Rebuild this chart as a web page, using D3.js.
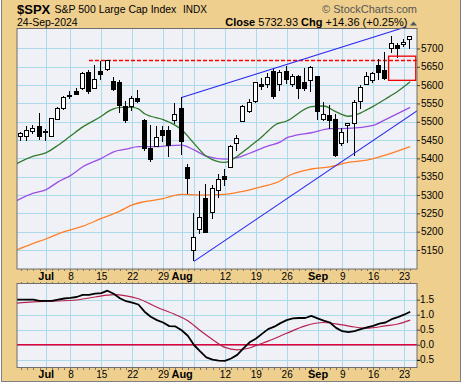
<!DOCTYPE html>
<html><head><meta charset="utf-8">
<script src="https://cdn.jsdelivr.net/npm/d3@7"></script>
<style>
body{margin:0;background:#fff}
svg{display:block}
text{font-family:"Liberation Sans",Arial,sans-serif}
</style>
</head><body>
<svg id="c" width="465" height="385"></svg>
<script>
// ---------------- DATA ----------------
const dates = ["2024-06-24","2024-06-25","2024-06-26","2024-06-27","2024-06-28",
"2024-07-01","2024-07-02","2024-07-03","2024-07-05","2024-07-08","2024-07-09","2024-07-10","2024-07-11","2024-07-12",
"2024-07-15","2024-07-16","2024-07-17","2024-07-18","2024-07-19","2024-07-22","2024-07-23","2024-07-24","2024-07-25","2024-07-26",
"2024-07-29","2024-07-30","2024-07-31","2024-08-01","2024-08-02","2024-08-05","2024-08-06","2024-08-07","2024-08-08","2024-08-09",
"2024-08-12","2024-08-13","2024-08-14","2024-08-15","2024-08-16","2024-08-19","2024-08-20","2024-08-21","2024-08-22","2024-08-23",
"2024-08-26","2024-08-27","2024-08-28","2024-08-29","2024-08-30","2024-09-03","2024-09-04","2024-09-05","2024-09-06",
"2024-09-09","2024-09-10","2024-09-11","2024-09-12","2024-09-13","2024-09-16","2024-09-17","2024-09-18","2024-09-19","2024-09-20",
"2024-09-23","2024-09-24"];
const candleDates = dates.slice(1);

const opens = [5460.7,5460.7,5473.6,5488.5,5471.1,5461.8,5507.4,5537.9,5572.8,5584.2,
5591.3,5635.2,5590.8,5638.2,5644.1,5610.1,5608.6,5543.4,5544.0,5565.3,
5505.8,5428.7,5433.7,5476.6,5478.7,5505.6,5537.8,5376.6,5151.1,5206.4,
5293.1,5252.6,5314.2,5351.9,5377.0,5442.2,5501.1,5530.5,5557.2,5602.9,
5603.1,5637.8,5602.6,5639.7,5602.9,5624.5,5607.3,5612.7,5623.9,5506.7,
5518.0,5507.3,5442.1,5490.5,5496.4,5557.5,5603.3,5615.2,5655.5,5641.7,
5702.6,5709.3,5711.9,5727.0];
const highs = [5472.9,5488.8,5490.8,5523.6,5479.6,5509.7,5539.3,5570.3,5583.1,5590.8,
5635.4,5642.5,5655.6,5666.9,5669.7,5622.5,5614.1,5557.5,5570.4,5585.3,
5508.0,5491.6,5488.3,5487.7,5489.5,5551.5,5566.2,5383.9,5250.9,5312.3,
5330.6,5328.0,5358.4,5371.2,5436.5,5463.2,5546.2,5562.0,5608.3,5620.5,
5632.7,5643.2,5641.8,5651.6,5631.2,5627.0,5647.0,5651.4,5623.9,5552.7,
5546.3,5522.5,5484.2,5497.9,5560.4,5600.7,5636.3,5636.1,5670.8,5689.8,
5733.6,5715.1,5725.4,5735.3];
const lows = [5446.6,5448.5,5467.5,5451.1,5446.5,5458.4,5507.4,5531.6,5562.5,5574.6,
5586.4,5576.5,5590.4,5614.8,5639.0,5584.8,5522.8,5497.0,5528.0,5550.9,
5420.0,5391.0,5430.7,5444.4,5403.0,5493.8,5410.4,5302.0,5119.3,5193.6,
5195.5,5233.9,5290.8,5324.4,5377.0,5421.1,5501.1,5525.2,5550.7,5585.5,
5591.6,5561.0,5585.2,5602.3,5593.5,5561.0,5583.7,5581.8,5503.8,5501.7,
5480.4,5402.6,5434.5,5441.7,5407.0,5535.5,5601.7,5604.5,5614.1,5615.1,
5686.4,5674.5,5704.9,5699.0];
const closes = [5469.30,5477.90,5482.87,5460.48,5475.09,5509.01,5537.02,5567.19,5572.85,5576.98,
5633.91,5584.54,5615.35,5631.22,5667.20,5588.27,5544.59,5505.00,5564.41,5555.74,
5427.13,5399.22,5459.10,5463.54,5436.44,5522.30,5446.68,5346.56,5186.33,5240.03,
5199.50,5319.31,5344.16,5344.39,5434.43,5455.21,5543.22,5554.25,5608.25,5597.12,
5620.85,5570.64,5634.61,5616.84,5625.80,5592.18,5591.96,5648.40,5528.93,5520.07,
5503.41,5408.42,5471.05,5495.52,5554.13,5595.76,5626.02,5633.09,5634.58,5618.26,
5713.64,5702.55,5718.57,5732.93];

// moving averages at sample dates
const maShortDates = ["2024-06-24","2024-06-27","2024-07-01","2024-07-03","2024-07-08","2024-07-10","2024-07-15","2024-07-16","2024-07-17","2024-07-18","2024-07-22","2024-07-23","2024-07-24","2024-07-25","2024-07-29","2024-07-31","2024-08-01","2024-08-05","2024-08-07","2024-08-12","2024-08-14","2024-08-16","2024-08-20","2024-08-21","2024-08-22","2024-08-26","2024-08-30","2024-09-04","2024-09-06","2024-09-10","2024-09-12","2024-09-13","2024-09-16","2024-09-18","2024-09-20","2024-09-24"];
const maShortVals  = [5383,5406,5415,5436,5461,5486,5515,5527,5535,5539,5539,5535,5522,5515,5506,5490,5478,5441,5406,5389,5406,5432,5459,5475,5490,5502,5541,5543,5527,5515,5524,5533,5542,5562,5583,5609];

const maMidDates = ["2024-06-24","2024-06-27","2024-07-01","2024-07-03","2024-07-08","2024-07-10","2024-07-15","2024-07-17","2024-07-19","2024-07-23","2024-07-26","2024-07-30","2024-08-01","2024-08-05","2024-08-07","2024-08-12","2024-08-14","2024-08-16","2024-08-21","2024-08-23","2024-08-26","2024-08-27","2024-08-30","2024-09-05","2024-09-10","2024-09-16","2024-09-18","2024-09-24"];
const maMidVals  = [5282,5305,5314,5336,5353,5377,5400,5418,5425,5432,5432,5435,5436,5423,5406,5398,5402,5414,5434,5445,5456,5461,5470,5481,5482,5490,5506,5539];

const maLongDates = ["2024-06-24","2024-06-27","2024-07-01","2024-07-05","2024-07-10","2024-07-15","2024-07-18","2024-07-22","2024-07-24","2024-07-29","2024-07-30","2024-08-01","2024-08-06","2024-08-12","2024-08-14","2024-08-20","2024-08-23","2024-08-26","2024-08-30","2024-09-05","2024-09-10","2024-09-13","2024-09-18","2024-09-24"];
const maLongVals  = [5148,5168,5180,5200,5215,5236,5256,5273,5282,5290,5295,5302,5300,5302,5307,5323,5339,5350,5371,5377,5389,5395,5409,5432];

// PPO (daily, from Jun 24) and its signal line (sampled)
const ppoVals = [1.50,1.50,1.50,1.50,1.46,1.46,1.46,1.50,1.54,1.56,1.59,1.66,1.66,1.70,1.72,1.80,1.70,1.55,1.45,1.40,1.34,
1.10,0.93,0.82,0.74,0.62,0.61,0.48,0.30,-0.01,-0.22,-0.42,-0.50,-0.53,-0.54,-0.46,-0.34,-0.12,0.08,0.20,0.36,
0.52,0.60,0.72,0.82,0.88,0.89,0.89,0.96,0.88,0.80,0.74,0.56,0.45,0.42,0.45,0.52,0.58,0.63,0.70,0.74,0.85,0.92,1.00,1.10];
const sigDates = ["2024-06-24","2024-06-27","2024-07-02","2024-07-09","2024-07-12","2024-07-17","2024-07-19","2024-07-23","2024-07-26","2024-07-31","2024-08-02","2024-08-06","2024-08-08","2024-08-12","2024-08-14","2024-08-16","2024-08-19","2024-08-21","2024-08-26","2024-08-29","2024-09-04","2024-09-09","2024-09-11","2024-09-13","2024-09-18","2024-09-20","2024-09-24"];
const sigVals  = [1.38,1.43,1.45,1.49,1.59,1.67,1.63,1.53,1.25,1.00,0.80,0.47,0.17,-0.09,-0.17,-0.11,-0.03,0.12,0.38,0.63,0.74,0.66,0.59,0.55,0.63,0.69,0.82];

// annotations
const upperTrend = [["2024-08-01",5566],["2024-09-23",5757]];
const upperTrendExtra = 0.4; // fraction of a day beyond end date
const lowerTrend = [["2024-08-05",5119],["2024-09-24",5517]];
const resistance = {from:"2024-07-11", value:5667};
const gapBox = {from:"2024-09-18", to:"2024-09-24", top:5679, bottom:5613};

// axis ticks
const priceTicks = [5150,5200,5250,5300,5350,5400,5450,5500,5550,5600,5650,5700];
const ppoTicks = [-0.5,0,0.5,1,1.5];
const xTickDates = ["2024-07-01","2024-07-08","2024-07-15","2024-07-22","2024-07-29","2024-08-01","2024-08-12","2024-08-19","2024-08-26","2024-09-03","2024-09-09","2024-09-16","2024-09-23"];
const xTickLabels = ["Jul","8","15","22","29","Aug","12","19","26","Sep","9","16","23"];
const gridDates = ["2024-07-01","2024-07-08","2024-07-15","2024-07-22","2024-07-29","2024-08-01","2024-08-05","2024-08-12","2024-08-19","2024-08-26","2024-09-03","2024-09-09","2024-09-16","2024-09-23"];

// ---------------- DRAW ----------------
const svg = d3.select("#c");
const tan = "#EFCF8E", plotBg = "#F0F1F6", gridC = "#ABDAEA", frame = "#6E6E6E";
const P = {l:17, r:417, t:28.5, b:269};
const L = {t:283.5, b:367.5};
const di = d => dates.indexOf(d);

const x = d3.scaleLinear().domain([0.35, 65.1]).range([P.l, P.r]);
const y = d3.scaleLinear().domain([5098.1, 5754.5]).range([P.b, P.t]);
const yl = d3.scaleLinear().domain([-0.76, 2.04]).range([L.b, L.t]);

svg.append("rect").attr("x",1.5).attr("y",-2).attr("width",459).attr("height",383.5)
  .attr("fill",tan).attr("stroke","#808080");

const defs = svg.append("defs");
defs.append("clipPath").attr("id","cu").append("rect").attr("x",P.l).attr("y",P.t).attr("width",P.r-P.l).attr("height",P.b-P.t);
defs.append("clipPath").attr("id","cl").append("rect").attr("x",P.l).attr("y",L.t).attr("width",P.r-P.l).attr("height",L.b-L.t);

// panels
svg.append("rect").attr("x",P.l).attr("y",P.t).attr("width",P.r-P.l).attr("height",P.b-P.t).attr("fill",plotBg);
svg.append("rect").attr("x",P.l).attr("y",L.t).attr("width",P.r-P.l).attr("height",L.b-L.t).attr("fill",plotBg);

const gu = svg.append("g").attr("clip-path","url(#cu)");
const gl = svg.append("g").attr("clip-path","url(#cl)");

// grid
const px = v => Math.round(v)+0.5;
gu.append("g").selectAll("line").data(gridDates).join("line").attr("x1",d=>px(x(di(d)))).attr("x2",d=>px(x(di(d))))
  .attr("y1",P.t).attr("y2",P.b).attr("stroke",gridC).attr("stroke-width",1);
gu.append("g").selectAll("line").data(priceTicks).join("line").attr("x1",P.l).attr("x2",P.r)
  .attr("y1",d=>px(y(d))).attr("y2",d=>px(y(d))).attr("stroke",gridC).attr("stroke-width",1);
gl.append("g").selectAll("line").data(gridDates).join("line").attr("x1",d=>px(x(di(d)))).attr("x2",d=>px(x(di(d))))
  .attr("y1",L.t).attr("y2",L.b).attr("stroke",gridC).attr("stroke-width",1);
gl.append("g").selectAll("line").data(ppoTicks).join("line").attr("x1",P.l).attr("x2",P.r)
  .attr("y1",d=>px(yl(d))).attr("y2",d=>px(yl(d))).attr("stroke",gridC).attr("stroke-width",1);

// moving averages
function maLine(ds, vs, color){
  const pts = ds.map((d,i)=>[x(di(d)), y(vs[i])]);
  gu.append("path").attr("d", d3.line().curve(d3.curveMonotoneX)(pts))
    .attr("fill","none").attr("stroke",color).attr("stroke-width",1.3);
}
maLine(maLongDates, maLongVals, "#FF7F27");
maLine(maMidDates, maMidVals, "#9B4FE8");
maLine(maShortDates, maShortVals, "#2E7A2E");

// resistance dashed line
gu.append("line").attr("x1",x(di(resistance.from))).attr("x2",P.r)
  .attr("y1",y(resistance.value)).attr("y2",y(resistance.value))
  .attr("stroke","#FF0000").attr("stroke-width",1.5).attr("stroke-dasharray","4,2");

// candles
const cg = gu.append("g").attr("shape-rendering","crispEdges");
candleDates.forEach((d,i)=>{
  const r = Math.round(x(di(d)));
  const o = opens[i], c = closes[i];
  cg.append("line").attr("x1",r-0.5).attr("x2",r-0.5).attr("y1",y(highs[i])).attr("y2",y(lows[i]))
    .attr("stroke","#000").attr("stroke-width",1);
  const top = Math.round(y(Math.max(o,c))), bot = Math.round(y(Math.min(o,c)));
  cg.append("rect").attr("x",r-2.5).attr("width",4).attr("y",top+0.5).attr("height",Math.max(bot-top,1))
    .attr("fill", c>o ? "#fff" : "#000").attr("stroke","#000").attr("stroke-width",1);
});

// gap box
gu.append("rect").attr("x",x(di(gapBox.from)+0.5)).attr("y",y(gapBox.top))
  .attr("width",x(di(gapBox.to)+0.9)-x(di(gapBox.from)+0.5)).attr("height",y(gapBox.bottom)-y(gapBox.top))
  .attr("fill","none").attr("stroke","#EE0000").attr("stroke-width",1.3);

// trend lines (upper one is drawn unclipped, it runs over the header)
{
  const [a,b] = upperTrend;
  const i0 = di(a[0]), i1 = di(b[0]);
  const slope = (b[1]-a[1])/(i1-i0);
  const i2 = i1 + upperTrendExtra;
  svg.append("line").attr("x1",x(i0)).attr("y1",y(a[1])).attr("x2",x(i2)).attr("y2",y(a[1]+slope*(i2-i0)))
    .attr("stroke","#2626F2").attr("stroke-width",1.1);
}
{
  const [a,b] = lowerTrend;
  const i0 = di(a[0]), i1 = di(b[0]);
  const slope = (b[1]-a[1])/(i1-i0);
  const i2 = i1 + 2;
  gu.append("line").attr("x1",x(i0)).attr("y1",y(a[1])).attr("x2",x(i2)).attr("y2",y(a[1]+slope*(i2-i0)))
    .attr("stroke","#2626F2").attr("stroke-width",1.1);
}

// lower panel
gl.append("line").attr("x1",P.l).attr("x2",P.r).attr("y1",yl(0)).attr("y2",yl(0))
  .attr("stroke","#E0003A").attr("stroke-width",1.5);
gl.append("path").attr("d", d3.line().curve(d3.curveMonotoneX)(sigDates.map((d,i)=>[x(di(d)), yl(sigVals[i])])))
  .attr("fill","none").attr("stroke","#B82050").attr("stroke-width",1.2);
gl.append("path").attr("d", d3.line()(ppoVals.map((v,i)=>[x(i), yl(v)])))
  .attr("fill","none").attr("stroke","#000").attr("stroke-width",1.8).attr("stroke-linejoin","round");

// frames
svg.append("rect").attr("x",P.l).attr("y",P.t).attr("width",P.r-P.l).attr("height",P.b-P.t).attr("fill","none").attr("stroke",frame);
svg.append("rect").attr("x",P.l).attr("y",L.t).attr("width",P.r-P.l).attr("height",L.b-L.t).attr("fill","none").attr("stroke",frame);

// day ticks (dotted) along axis bands
const tk = svg.append("g").attr("stroke","#777").attr("stroke-width",1).attr("shape-rendering","crispEdges");
[[P.b, 2],[L.t, -2],[L.b, 2]].forEach(([yy,len])=>{
  candleDates.forEach(d=>{
    const xx = Math.round(x(di(d)))+0.5;
    tk.append("line").attr("x1",xx).attr("x2",xx).attr("y1",yy).attr("y2",yy+len);
  });
});

// y axes
const ax1 = svg.append("g").attr("transform",`translate(${P.r},0)`)
  .call(d3.axisRight(y).tickValues(priceTicks).tickSize(3).tickPadding(1).tickFormat(d3.format("d")));
ax1.select(".domain").remove();
ax1.selectAll("text").attr("font-size",10).attr("font-family","Liberation Sans, Arial, sans-serif").attr("fill","#000");
ax1.selectAll("line").attr("stroke","#444");

const ax2 = svg.append("g").attr("transform",`translate(${P.r},0)`)
  .call(d3.axisRight(yl).tickValues(ppoTicks).tickSize(3).tickPadding(1).tickFormat(d=>d.toFixed(1)));
ax2.select(".domain").remove();
ax2.selectAll("text").attr("font-size",10).attr("font-family","Liberation Sans, Arial, sans-serif").attr("fill","#000")
  .attr("text-anchor","end").attr("x",17);
ax2.selectAll("line").attr("stroke","#444");

// x axes
function xAxis(yy, base){
  const g = svg.append("g").attr("transform",`translate(0,${yy})`)
    .call(d3.axisBottom(x).tickValues(xTickDates.map(di)).tickSize(0).tickFormat((d,i)=>xTickLabels[i]));
  g.select(".domain").remove();
  g.selectAll("text").attr("y",base).attr("dy",0).attr("fill","#000")
    .attr("font-family","Liberation Sans, Arial, sans-serif")
    .attr("font-size",(d,i)=>isNaN(+xTickLabels[i])?11:10)
    .attr("font-weight",(d,i)=>isNaN(+xTickLabels[i])?"bold":"normal");
}
xAxis(P.b, 11);
xAxis(L.b, 10.5);

// header
const n = closes.length;
const chg = closes[n-1]-closes[n-2];
const pct = chg/closes[n-2]*100;
const F = "Liberation Sans, Arial, sans-serif";
svg.append("text").attr("x",17).attr("y",13.5).attr("font-size",13).attr("font-weight","bold").attr("font-family",F).text("$SPX");
svg.append("text").attr("x",54.5).attr("y",13).attr("font-size",10.5).attr("font-family",F).text("S&P 500 Large Cap Index");
svg.append("text").attr("x",183).attr("y",13).attr("font-size",10).attr("font-family",F).text("INDX");
svg.append("text").attr("x",417).attr("y",13).attr("font-size",11).attr("font-family",F).attr("text-anchor","end").attr("fill","#555").text("\u00A9 StockCharts.com");
svg.append("text").attr("x",17).attr("y",26).attr("font-size",10.5).attr("font-family",F).text("24-Sep-2024");
const t2 = svg.append("text").attr("x",407.5).attr("y",26).attr("font-size",11).attr("font-family",F).attr("text-anchor","end");
t2.append("tspan").attr("font-weight","bold").text("Close ");
t2.append("tspan").text(closes[n-1].toFixed(2)+"  ");
t2.append("tspan").attr("font-weight","bold").text("Chg ");
t2.append("tspan").text((chg>=0?"+":"")+chg.toFixed(2)+" (+"+pct.toFixed(2)+"%)");
svg.append("path").attr("d","M410,25.5 L413.5,21.5 L417,25.5 Z").attr("fill","#4C5A5A");
</script>
</body></html>
